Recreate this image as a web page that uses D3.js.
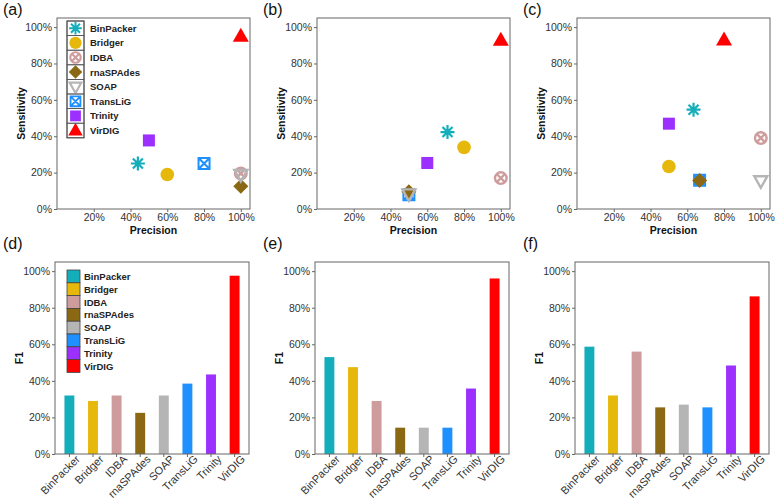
<!DOCTYPE html>
<html>
<head>
<meta charset="utf-8">
<script src="https://cdn.jsdelivr.net/npm/d3@7"></script>
<style>
  body { margin: 0; background: #fff; }
  svg { display: block; font-family: "Liberation Sans", Arial, sans-serif; }
</style>
</head>
<body>
<svg id="chart" width="780" height="504"></svg>
<script>
// tools and colours
const methods = ["BinPacker", "Bridger", "IDBA", "rnaSPAdes", "SOAP", "TransLiG", "Trinity", "VirDIG"];
const colors = ["#14AEBB", "#E6B80C", "#CE9C9C", "#8B6914", "#B5B5B5", "#1E90FF", "#9B30FF", "#FF0000"];
// drawing order of the scatter markers (TransLiG sits underneath)
const drawOrder = [0, 1, 2, 5, 3, 4, 6, 7];

// (a)-(c) precision / sensitivity
const precA = [0.44, 0.60, 1.00, 1.00, 1.00, 0.80, 0.50, 1.00];
const sensA = [0.25, 0.19, 0.195, 0.125, 0.19, 0.25, 0.377, 0.95];
const precB = [0.71, 0.80, 1.00, 0.50, 0.50, 0.50, 0.60, 1.00];
const sensB = [0.423, 0.339, 0.17, 0.095, 0.083, 0.078, 0.253, 0.927];
const precC = [0.634, 0.50, 1.00, 0.667, 1.00, 0.667, 0.50, 0.80];
const sensC = [0.546, 0.234, 0.39, 0.156, 0.155, 0.158, 0.469, 0.929];

// (d)-(f) F1
const f1D = [0.32, 0.29, 0.32, 0.225, 0.32, 0.385, 0.435, 0.975];
const f1E = [0.53, 0.475, 0.29, 0.144, 0.144, 0.144, 0.358, 0.96];
const f1F = [0.587, 0.32, 0.56, 0.255, 0.27, 0.255, 0.484, 0.862];

const xTicks = [0.2, 0.4, 0.6, 0.8, 1.0];
const yTicks = [0, 0.2, 0.4, 0.6, 0.8, 1.0];

const svg = d3.select("#chart");
const pct = d3.format(".0%");
const frameColor = "#666";

// 每种工具的散点形状
function marker(sel, i, s) {
  const c = colors[i];
  if (i === 0) {
    const a = 7 * s, b = 5 * s;
    sel.append("path")
      .attr("d", `M${-a},0L${a},0M0,${-a}L0,${a}M${-b},${-b}L${b},${b}M${-b},${b}L${b},${-b}`)
      .attr("stroke", c).attr("stroke-width", 2.2 * s).attr("fill", "none");
  } else if (i === 1) {
    sel.append("circle").attr("r", 6.8 * s).attr("fill", c);
  } else if (i === 2) {
    const r = 5.8 * s, b = 4.1 * s;
    sel.append("circle").attr("r", r).attr("fill", "none").attr("stroke", c).attr("stroke-width", 2.4 * s);
    sel.append("path").attr("d", `M${-b},${-b}L${b},${b}M${-b},${b}L${b},${-b}`)
      .attr("stroke", c).attr("stroke-width", 2.4 * s);
  } else if (i === 3) {
    const a = 7.5 * s;
    sel.append("path").attr("d", `M0,${-a}L${a},0L0,${a}L${-a},0Z`).attr("fill", c);
  } else if (i === 4) {
    const w = 6.5 * s;
    sel.append("path").attr("d", `M${-w},${-4.5 * s}L${w},${-4.5 * s}L0,${7 * s}Z`)
      .attr("fill", "none").attr("stroke", c).attr("stroke-width", 2.4 * s).attr("stroke-linejoin", "miter");
  } else if (i === 5) {
    const h = 5.5 * s;
    sel.append("path").attr("d", `M${-h},${-h}H${h}V${h}H${-h}ZM${-h},${-h}L${h},${h}M${-h},${h}L${h},${-h}`)
      .attr("fill", "none").attr("stroke", c).attr("stroke-width", 2 * s);
  } else if (i === 6) {
    const h = 6 * s;
    sel.append("rect").attr("x", -h).attr("y", -h).attr("width", 2 * h).attr("height", 2 * h).attr("fill", c);
  } else {
    const w = 8 * s;
    sel.append("path").attr("d", `M0,${-8.5 * s}L${w},${5.5 * s}L${-w},${5.5 * s}Z`).attr("fill", c);
  }
}

function frame(g, w, h) {
  g.append("rect").attr("width", w).attr("height", h)
    .attr("fill", "none").attr("stroke", frameColor).attr("stroke-width", 1);
}

function styleAxis(ax) {
  ax.select(".domain").remove();
  ax.selectAll(".tick line").attr("stroke", frameColor);
  ax.selectAll(".tick text").attr("fill", "#333").attr("font-size", 10.5);
}

function panelLabel(x, y, t) {
  svg.append("text").attr("x", x).attr("y", y).attr("font-size", 16).attr("fill", "#111").text(t);
}

// 散点图面板
function scatter(left, prec, sens, label, withLegend) {
  const top = 18, w = 193, h = 191;
  const g = svg.append("g").attr("transform", `translate(${left},${top})`);
  const x = d3.scaleLinear().domain([0, 1.05]).range([0, w]);
  const y = d3.scaleLinear().domain([0, 1.05]).range([h, 0]);

  g.append("g").attr("transform", `translate(0,${h})`)
    .call(d3.axisBottom(x).tickValues(xTicks).tickFormat(pct).tickSize(3).tickPadding(2))
    .call(styleAxis);
  g.append("g")
    .call(d3.axisLeft(y).tickValues(yTicks).tickFormat(pct).tickSize(3).tickPadding(2))
    .call(styleAxis);
  frame(g, w, h);

  g.append("text").attr("x", w / 2).attr("y", h + 25).attr("text-anchor", "middle")
    .attr("font-size", 10.5).attr("font-weight", "bold").attr("fill", "#111").text("Precision");
  g.append("text").attr("transform", `translate(-32,${h / 2}) rotate(-90)`).attr("text-anchor", "middle")
    .attr("font-size", 10.5).attr("font-weight", "bold").attr("fill", "#111").text("Sensitivity");

  drawOrder.forEach(i => {
    const p = g.append("g").attr("transform", `translate(${x(prec[i])},${y(sens[i])})`);
    marker(p, i, 1);
  });

  if (withLegend) {
    const lg = g.append("g").attr("transform", "translate(10,3)");
    const rowH = 14.6;
    lg.append("rect").attr("width", 17).attr("height", rowH * methods.length)
      .attr("fill", "#fff").attr("stroke", "#444");
    methods.forEach((m, i) => {
      const row = lg.append("g").attr("transform", `translate(0,${i * rowH})`);
      row.append("rect").attr("width", 17).attr("height", rowH).attr("fill", "none").attr("stroke", "#555").attr("stroke-width", 0.8);
      marker(row.append("g").attr("transform", `translate(8.5,${rowH / 2})`), i, 0.9);
      row.append("text").attr("x", 23).attr("y", rowH / 2 + 3.5).attr("font-size", 9.5)
        .attr("font-weight", "bold").attr("fill", "#222").text(m);
    });
  }

  panelLabel(left - 54, 15, label);
}

// 柱状图面板
function bars(left, f1, label, withLegend) {
  const top = 262, w = 194, h = 192;
  const g = svg.append("g").attr("transform", `translate(${left},${top})`);
  const x = d3.scaleBand().domain(methods).range([0, w]).paddingInner(0.58).paddingOuter(0.4);
  const y = d3.scaleLinear().domain([0, 1.05]).range([h, 0]);

  const xa = g.append("g").attr("transform", `translate(0,${h})`)
    .call(d3.axisBottom(x).tickSize(3).tickPadding(3))
    .call(styleAxis);
  xa.selectAll(".tick text")
    .attr("font-size", 11)
    .attr("text-anchor", "end").attr("dx", "0.35em").attr("dy", "0.55em")
    .attr("transform", "rotate(-45)");
  g.append("g")
    .call(d3.axisLeft(y).tickValues(yTicks).tickFormat(pct).tickSize(3).tickPadding(2))
    .call(styleAxis);

  g.selectAll(".bar").data(methods).join("rect")
    .attr("x", d => x(d)).attr("width", x.bandwidth())
    .attr("y", (d, i) => y(f1[i])).attr("height", (d, i) => h - y(f1[i]))
    .attr("fill", (d, i) => colors[i]);
  frame(g, w, h);

  g.append("text").attr("transform", `translate(-32,${h / 2}) rotate(-90)`).attr("text-anchor", "middle")
    .attr("font-size", 10.5).attr("font-weight", "bold").attr("fill", "#111").text("F1");

  if (withLegend) {
    const lg = g.append("g").attr("transform", "translate(12,8)");
    const rowH = 12.8;
    methods.forEach((m, i) => {
      lg.append("rect").attr("y", i * rowH).attr("width", 13).attr("height", rowH)
        .attr("fill", colors[i]).attr("stroke", "#444").attr("stroke-width", 0.8);
      lg.append("text").attr("x", 17).attr("y", i * rowH + rowH / 2 + 3.5).attr("font-size", 9.5)
        .attr("font-weight", "bold").attr("fill", "#222").text(m);
    });
  }

  panelLabel(left - 52, top - 13, label);
}

scatter(57, precA, sensA, "(a)", true);
scatter(317, precB, sensB, "(b)", false);
scatter(577, precC, sensC, "(c)", false);
bars(55, f1D, "(d)", true);
bars(315, f1E, "(e)", false);
bars(575, f1F, "(f)", false);
</script>
</body>
</html>
